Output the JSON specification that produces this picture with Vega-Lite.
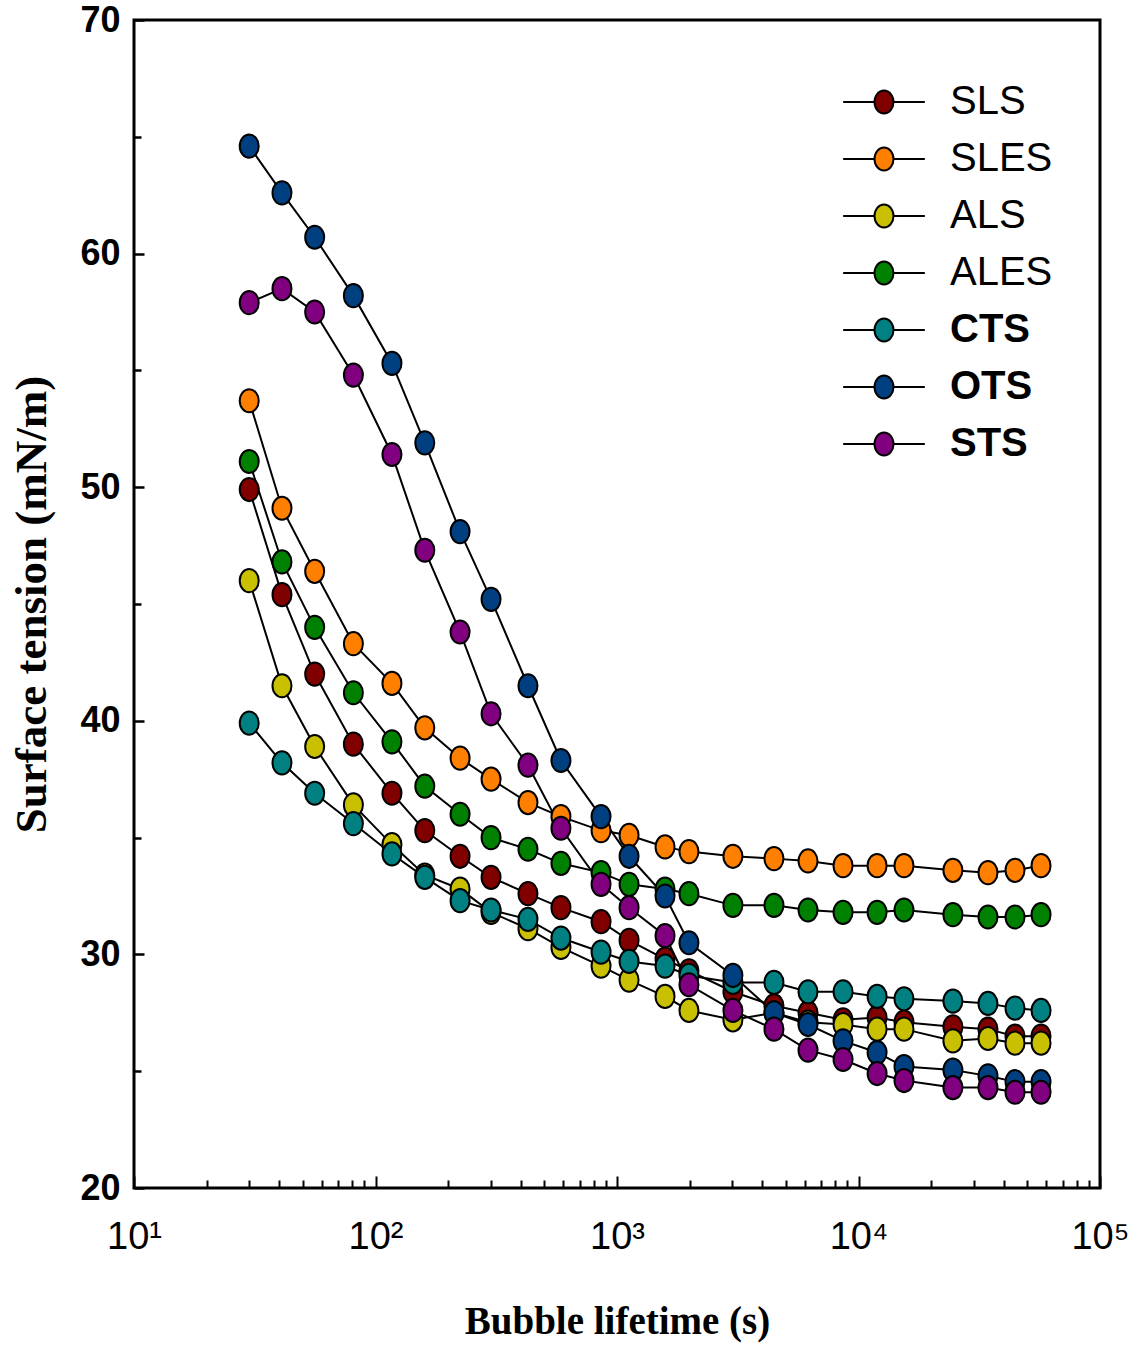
{
  "$schema": "https://vega.github.io/schema/vega-lite/v6.json",
  "width": 966,
  "height": 1168,
  "autosize": {"type": "none"},
  "padding": {"left": 134, "top": 20, "right": 32, "bottom": 164},
  "background": "white",
  "config": {
    "view": {"stroke": "black", "strokeWidth": 3},
    "axis": {"grid": false, "domain": false, "tickColor": "black", "labelColor": "black", "titleColor": "black"}
  },
  "datasets": {
    "d": [
      {"s":"SLS","t":30,"v":49.9},{"s":"SLS","t":41,"v":45.4},{"s":"SLS","t":56,"v":42.0},{"s":"SLS","t":81,"v":39.0},{"s":"SLS","t":117,"v":36.9},{"s":"SLS","t":160,"v":35.3},{"s":"SLS","t":224,"v":34.2},{"s":"SLS","t":301,"v":33.3},{"s":"SLS","t":428,"v":32.6},{"s":"SLS","t":586,"v":32.0},{"s":"SLS","t":859,"v":31.4},{"s":"SLS","t":1122,"v":30.6},{"s":"SLS","t":1581,"v":29.8},{"s":"SLS","t":1986,"v":29.3},{"s":"SLS","t":3020,"v":28.4},{"s":"SLS","t":4467,"v":27.8},{"s":"SLS","t":6180,"v":27.5},{"s":"SLS","t":8630,"v":27.2},{"s":"SLS","t":11940,"v":27.3},{"s":"SLS","t":15430,"v":27.1},{"s":"SLS","t":24600,"v":26.9},{"s":"SLS","t":34370,"v":26.8},{"s":"SLS","t":44470,"v":26.5},{"s":"SLS","t":57000,"v":26.5},
      {"s":"SLES","t":30,"v":53.7},{"s":"SLES","t":41,"v":49.1},{"s":"SLES","t":56,"v":46.4},{"s":"SLES","t":81,"v":43.3},{"s":"SLES","t":117,"v":41.6},{"s":"SLES","t":160,"v":39.7},{"s":"SLES","t":224,"v":38.4},{"s":"SLES","t":301,"v":37.5},{"s":"SLES","t":428,"v":36.5},{"s":"SLES","t":586,"v":35.9},{"s":"SLES","t":859,"v":35.3},{"s":"SLES","t":1122,"v":35.1},{"s":"SLES","t":1581,"v":34.6},{"s":"SLES","t":1986,"v":34.4},{"s":"SLES","t":3020,"v":34.2},{"s":"SLES","t":4467,"v":34.1},{"s":"SLES","t":6180,"v":34.0},{"s":"SLES","t":8630,"v":33.8},{"s":"SLES","t":11940,"v":33.8},{"s":"SLES","t":15430,"v":33.8},{"s":"SLES","t":24600,"v":33.6},{"s":"SLES","t":34370,"v":33.5},{"s":"SLES","t":44470,"v":33.6},{"s":"SLES","t":57000,"v":33.8},
      {"s":"ALS","t":30,"v":46.0},{"s":"ALS","t":41,"v":41.5},{"s":"ALS","t":56,"v":38.9},{"s":"ALS","t":81,"v":36.4},{"s":"ALS","t":117,"v":34.7},{"s":"ALS","t":160,"v":33.4},{"s":"ALS","t":224,"v":32.8},{"s":"ALS","t":301,"v":31.8},{"s":"ALS","t":428,"v":31.1},{"s":"ALS","t":586,"v":30.3},{"s":"ALS","t":859,"v":29.5},{"s":"ALS","t":1122,"v":28.9},{"s":"ALS","t":1581,"v":28.2},{"s":"ALS","t":1986,"v":27.6},{"s":"ALS","t":3020,"v":27.2},{"s":"ALS","t":4467,"v":27.5},{"s":"ALS","t":6180,"v":27.1},{"s":"ALS","t":8630,"v":27.0},{"s":"ALS","t":11940,"v":26.8},{"s":"ALS","t":15430,"v":26.8},{"s":"ALS","t":24600,"v":26.3},{"s":"ALS","t":34370,"v":26.4},{"s":"ALS","t":44470,"v":26.2},{"s":"ALS","t":57000,"v":26.2},
      {"s":"ALES","t":30,"v":51.1},{"s":"ALES","t":41,"v":46.8},{"s":"ALES","t":56,"v":44.0},{"s":"ALES","t":81,"v":41.2},{"s":"ALES","t":117,"v":39.1},{"s":"ALES","t":160,"v":37.2},{"s":"ALES","t":224,"v":36.0},{"s":"ALES","t":301,"v":35.0},{"s":"ALES","t":428,"v":34.5},{"s":"ALES","t":586,"v":33.9},{"s":"ALES","t":859,"v":33.5},{"s":"ALES","t":1122,"v":33.0},{"s":"ALES","t":1581,"v":32.8},{"s":"ALES","t":1986,"v":32.6},{"s":"ALES","t":3020,"v":32.1},{"s":"ALES","t":4467,"v":32.1},{"s":"ALES","t":6180,"v":31.9},{"s":"ALES","t":8630,"v":31.8},{"s":"ALES","t":11940,"v":31.8},{"s":"ALES","t":15430,"v":31.9},{"s":"ALES","t":24600,"v":31.7},{"s":"ALES","t":34370,"v":31.6},{"s":"ALES","t":44470,"v":31.6},{"s":"ALES","t":57000,"v":31.7},
      {"s":"CTS","t":30,"v":39.9},{"s":"CTS","t":41,"v":38.2},{"s":"CTS","t":56,"v":36.9},{"s":"CTS","t":81,"v":35.6},{"s":"CTS","t":117,"v":34.3},{"s":"CTS","t":160,"v":33.3},{"s":"CTS","t":224,"v":32.3},{"s":"CTS","t":301,"v":31.9},{"s":"CTS","t":428,"v":31.5},{"s":"CTS","t":586,"v":30.7},{"s":"CTS","t":859,"v":30.1},{"s":"CTS","t":1122,"v":29.7},{"s":"CTS","t":1581,"v":29.5},{"s":"CTS","t":1986,"v":29.1},{"s":"CTS","t":3020,"v":28.8},{"s":"CTS","t":4467,"v":28.8},{"s":"CTS","t":6180,"v":28.4},{"s":"CTS","t":8630,"v":28.4},{"s":"CTS","t":11940,"v":28.2},{"s":"CTS","t":15430,"v":28.1},{"s":"CTS","t":24600,"v":28.0},{"s":"CTS","t":34370,"v":27.9},{"s":"CTS","t":44470,"v":27.7},{"s":"CTS","t":57000,"v":27.6},
      {"s":"OTS","t":30,"v":64.6},{"s":"OTS","t":41,"v":62.6},{"s":"OTS","t":56,"v":60.7},{"s":"OTS","t":81,"v":58.2},{"s":"OTS","t":117,"v":55.3},{"s":"OTS","t":160,"v":51.9},{"s":"OTS","t":224,"v":48.1},{"s":"OTS","t":301,"v":45.2},{"s":"OTS","t":428,"v":41.5},{"s":"OTS","t":586,"v":38.3},{"s":"OTS","t":859,"v":35.9},{"s":"OTS","t":1122,"v":34.2},{"s":"OTS","t":1581,"v":32.5},{"s":"OTS","t":1986,"v":30.5},{"s":"OTS","t":3020,"v":29.1},{"s":"OTS","t":4467,"v":27.5},{"s":"OTS","t":6180,"v":27.0},{"s":"OTS","t":8630,"v":26.3},{"s":"OTS","t":11940,"v":25.8},{"s":"OTS","t":15430,"v":25.2},{"s":"OTS","t":24600,"v":25.05},{"s":"OTS","t":34370,"v":24.8},{"s":"OTS","t":44470,"v":24.55},{"s":"OTS","t":57000,"v":24.55},
      {"s":"STS","t":30,"v":57.9},{"s":"STS","t":41,"v":58.5},{"s":"STS","t":56,"v":57.5},{"s":"STS","t":81,"v":54.8},{"s":"STS","t":117,"v":51.4},{"s":"STS","t":160,"v":47.3},{"s":"STS","t":224,"v":43.8},{"s":"STS","t":301,"v":40.3},{"s":"STS","t":428,"v":38.1},{"s":"STS","t":586,"v":35.4},{"s":"STS","t":859,"v":33.0},{"s":"STS","t":1122,"v":32.0},{"s":"STS","t":1581,"v":30.8},{"s":"STS","t":1986,"v":28.7},{"s":"STS","t":3020,"v":27.6},{"s":"STS","t":4467,"v":26.8},{"s":"STS","t":6180,"v":25.9},{"s":"STS","t":8630,"v":25.5},{"s":"STS","t":11940,"v":24.9},{"s":"STS","t":15430,"v":24.6},{"s":"STS","t":24600,"v":24.3},{"s":"STS","t":34370,"v":24.3},{"s":"STS","t":44470,"v":24.1},{"s":"STS","t":57000,"v":24.1}
    ]
  },
  "data": {"name": "d"},
  "layer": [
    {
      "mark": {"type": "line", "stroke": "black", "strokeWidth": 2},
      "encoding": {
        "detail": {"field": "s"},
        "x": {"field": "t", "type": "quantitative", "scale": {"type": "log", "domain": [10, 100000], "nice": false},
          "axis": {"orient": "bottom", "values": [10, 100, 1000, 10000, 100000], "tickSize": -12, "tickWidth": 2, "labelPadding": 42,
            "labelExpr": "'10' + ['⁰','¹','²','³','⁴','⁵'][round(log(datum.value)/LN10)]",
            "labelFont": "Liberation Sans", "labelFontSize": 38, "labelFlush": false, "labelOverlap": false,
            "title": "Bubble lifetime (s)", "titleFont": "Liberation Serif", "titleFontSize": 39, "titleFontWeight": "bold", "titlePadding": 46}},
        "y": {"field": "v", "type": "quantitative", "scale": {"domain": [20, 70], "nice": false, "zero": false},
          "axis": {"orient": "left", "values": [20, 30, 40, 50, 60, 70], "tickSize": -10, "tickWidth": 2.5, "labelPadding": 24,
            "labelFont": "Liberation Sans", "labelFontWeight": "bold", "labelFontSize": 36, "labelFlush": false, "labelOverlap": false,
            "title": "Surface tension (mN/m)", "titleFont": "Liberation Serif", "titleFontSize": 45, "titleFontWeight": "bold", "titlePadding": 25}}
      }
    },
    {
      "mark": {"type": "point", "shape": "M-1,0A1,1.22,0,1,1,1,0A1,1.22,0,1,1,-1,0Z", "filled": true, "size": 361, "stroke": "black", "strokeWidth": 2, "opacity": 1},
      "encoding": {
        "x": {"field": "t", "type": "quantitative",
          "axis": {"orient": "bottom", "values": [20,30,40,50,60,70,80,90,200,300,400,500,600,700,800,900,2000,3000,4000,5000,6000,7000,8000,9000,20000,30000,40000,50000,60000,70000,80000,90000],
            "tickSize": -8, "tickWidth": 2, "labels": false, "title": null}},
        "y": {"field": "v", "type": "quantitative",
          "axis": {"orient": "left", "values": [25, 35, 45, 55, 65], "tickSize": -7, "tickWidth": 2.5, "labels": false, "title": null}},
        "color": {"field": "s", "type": "nominal",
          "scale": {"domain": ["SLS", "SLES", "ALS", "ALES", "CTS", "OTS", "STS"], "range": ["#800000", "#FF8000", "#C8C000", "#008000", "#008080", "#004080", "#800080"]},
          "legend": {"orient": "none", "legendX": 730, "legendY": 62, "title": null, "padding": 0,
            "symbolType": "M-4.3,0H-1M1,0H4.3M-1,0A1,1.22,0,1,1,1,0A1,1.22,0,1,1,-1,0Z",
            "symbolSize": 361, "symbolStrokeColor": "black", "symbolStrokeWidth": 2, "symbolOpacity": 1,
            "labelFont": "Liberation Sans", "labelFontSize": 40, "labelColor": "black", "labelOffset": 46, "labelLimit": 0, "rowPadding": 17,
            "encode": {"labels": {"update": {"fontWeight": {"signal": "indexof(['CTS','OTS','STS'], datum.label) >= 0 ? 'bold' : 'normal'"}}}}}}
      }
    }
  ],
  "resolve": {"axis": {"x": "independent", "y": "independent"}}
}
